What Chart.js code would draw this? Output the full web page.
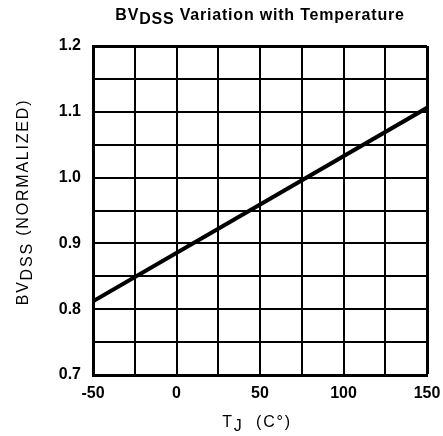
<!DOCTYPE html>
<html>
<head>
<meta charset="utf-8">
<script src="https://cdn.jsdelivr.net/npm/chart.js@4.4.1/dist/chart.umd.min.js"></script>
<style>
  html, body { margin: 0; padding: 0; background: #fff; }
  #wrap { width: 443px; height: 436px; }
</style>
</head>
<body>
<div id="wrap"><canvas id="chartBV"></canvas></div>
<script>
// values
const tempC = [-50, 150];
const bvNorm = [0.812, 1.106];
const xTicks = [-50, 0, 50, 100, 150];
const yTicks = [0.7, 0.8, 0.9, 1.0, 1.1, 1.2];

const FONT = "'Liberation Sans', Arial, sans-serif";

// draws a string made of pieces, some of them subscript
function drawRich(ctx, parts, x, y, size, weight, spacing, rotate) {
  ctx.save();
  ctx.translate(x, y);
  if (rotate) ctx.rotate(-Math.PI / 2);
  ctx.letterSpacing = spacing + "px";
  let total = 0;
  parts.forEach((p) => {
    ctx.font = weight + " " + size + "px " + FONT;
    total += ctx.measureText(p.t).width;
  });
  let cx = -total / 2;
  ctx.fillStyle = "#000";
  ctx.textBaseline = "alphabetic";
  ctx.textAlign = "left";
  parts.forEach((p) => {
    ctx.font = weight + " " + size + "px " + FONT;
    ctx.fillText(p.t, cx, p.sub ? size * 0.25 : 0);
    cx += ctx.measureText(p.t).width;
  });
  ctx.restore();
}

const labelsPlugin = {
  id: "labels",
  afterDraw(chart) {
    const ctx = chart.ctx;
    drawRich(ctx, [{ t: "BV" }, { t: "DSS", sub: true }, { t: " Variation with Temperature" }], 260, 20, 16, "bold", 0.8);
    drawRich(ctx, [{ t: "BV" }, { t: "DSS", sub: true }, { t: " (NORMALIZED)" }], 28, 202, 16, "normal", 1.8, true);
    drawRich(ctx, [{ t: "T" }, { t: "J", sub: true }, { t: "  (C°)" }], 257, 427, 16, "normal", 1.8);
  },
};

const data = tempC.map((t, i) => ({ x: t, y: bvNorm[i] }));

new Chart(document.getElementById("chartBV"), {
  type: "scatter",
  data: {
    datasets: [
      {
        data: data,
        showLine: true,
        borderColor: "#000",
        borderWidth: 4,
        pointRadius: 0,
      },
    ],
  },
  options: {
    responsive: true,
    maintainAspectRatio: false,
    animation: false,
    layout: { padding: { top: 46, right: 16, left: 0, bottom: 0 } },
    plugins: { legend: { display: false }, tooltip: { enabled: false } },
    scales: {
      x: {
        type: "linear",
        min: -50,
        max: 150,
        afterFit: (s) => {
          s.height = 61;
          s.paddingLeft = 0;
          s.paddingRight = 0;
        },
        border: { color: "#000", width: 3 },
        grid: {
          color: "#000",
          lineWidth: (c) => (c.tick && c.tick.value === 150 ? 3 : 2),
          drawTicks: false,
        },
        ticks: {
          stepSize: 25,
          padding: 9,
          maxRotation: 0,
          color: "#000",
          font: { family: FONT, size: 16, weight: "bold" },
          callback: (v) => (xTicks.includes(v) ? String(v) : ""),
        },
      },
      y: {
        min: 0.7,
        max: 1.2,
        afterFit: (s) => {
          s.width = 93;
          s.paddingTop = 0;
          s.paddingBottom = 0;
        },
        border: { color: "#000", width: 3 },
        grid: {
          color: "#000",
          lineWidth: (c) => (c.tick && Math.abs(c.tick.value - 1.2) < 1e-6 ? 3 : 2),
          drawTicks: false,
        },
        ticks: {
          stepSize: 0.05,
          padding: 12,
          color: "#000",
          font: { family: FONT, size: 16, weight: "bold" },
          callback: (v) => {
            const hit = yTicks.find((t) => Math.abs(t - v) < 1e-6);
            return hit !== undefined ? hit.toFixed(1) : "";
          },
        },
      },
    },
  },
  plugins: [labelsPlugin],
});
</script>
</body>
</html>
